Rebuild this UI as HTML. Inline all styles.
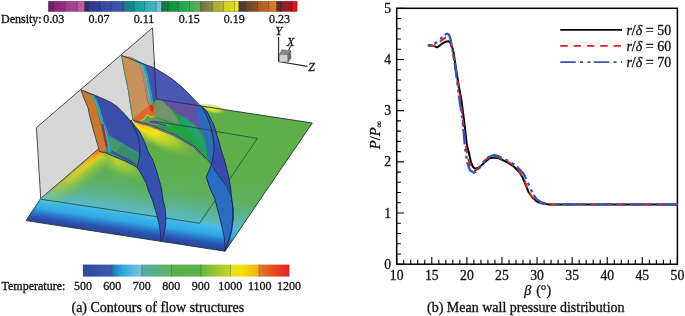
<!DOCTYPE html>
<html><head><meta charset="utf-8"><style>
html,body{margin:0;padding:0;background:#fff;}
svg{display:block;will-change:transform;}
text{font-family:"Liberation Serif",serif;fill:#111;stroke:#111;stroke-width:0.3px;}
</style></head><body>
<svg width="685" height="316" viewBox="0 0 685 316">
<defs><linearGradient id="d0"><stop offset="0" stop-color="#6a1e62"/><stop offset="1" stop-color="#781f6c"/></linearGradient><linearGradient id="d1"><stop offset="0" stop-color="#86267a"/><stop offset="1" stop-color="#94307f"/></linearGradient><linearGradient id="d2"><stop offset="0" stop-color="#9e3a88"/><stop offset="1" stop-color="#aa4890"/></linearGradient><linearGradient id="d3"><stop offset="0" stop-color="#bd509c"/><stop offset="1" stop-color="#c85aa2"/></linearGradient><linearGradient id="d4"><stop offset="0" stop-color="#2c2c6c"/><stop offset="1" stop-color="#30327a"/></linearGradient><linearGradient id="d5"><stop offset="0" stop-color="#323888"/><stop offset="1" stop-color="#343e92"/></linearGradient><linearGradient id="d6"><stop offset="0" stop-color="#36449c"/><stop offset="1" stop-color="#3a4ea6"/></linearGradient><linearGradient id="d7"><stop offset="0" stop-color="#3a50aa"/><stop offset="1" stop-color="#3c58b0"/></linearGradient><linearGradient id="d8"><stop offset="0" stop-color="#1a7682"/><stop offset="1" stop-color="#128a90"/></linearGradient><linearGradient id="d9"><stop offset="0" stop-color="#109c9e"/><stop offset="1" stop-color="#18a8aa"/></linearGradient><linearGradient id="d10"><stop offset="0" stop-color="#22aeb6"/><stop offset="1" stop-color="#3cb8c6"/></linearGradient><linearGradient id="d11"><stop offset="0" stop-color="#68bedc"/><stop offset="1" stop-color="#74c4e0"/></linearGradient><linearGradient id="d12"><stop offset="0" stop-color="#2a6a3a"/><stop offset="1" stop-color="#1a8040"/></linearGradient><linearGradient id="d13"><stop offset="0" stop-color="#0c8e40"/><stop offset="1" stop-color="#129a42"/></linearGradient><linearGradient id="d14"><stop offset="0" stop-color="#12a648"/><stop offset="1" stop-color="#30b050"/></linearGradient><linearGradient id="d15"><stop offset="0" stop-color="#42aa50"/><stop offset="1" stop-color="#5eb050"/></linearGradient><linearGradient id="d16"><stop offset="0" stop-color="#6a6e40"/><stop offset="1" stop-color="#8c9040"/></linearGradient><linearGradient id="d17"><stop offset="0" stop-color="#a6a638"/><stop offset="1" stop-color="#bab830"/></linearGradient><linearGradient id="d18"><stop offset="0" stop-color="#d6ce20"/><stop offset="1" stop-color="#e2d818"/></linearGradient><linearGradient id="d19"><stop offset="0" stop-color="#eee820"/><stop offset="1" stop-color="#f2ec30"/></linearGradient><linearGradient id="d20"><stop offset="0" stop-color="#4e3a30"/><stop offset="1" stop-color="#56402e"/></linearGradient><linearGradient id="d21"><stop offset="0" stop-color="#6a4430"/><stop offset="1" stop-color="#8c5028"/></linearGradient><linearGradient id="d22"><stop offset="0" stop-color="#a85a20"/><stop offset="1" stop-color="#c26820"/></linearGradient><linearGradient id="d23"><stop offset="0" stop-color="#d27020"/><stop offset="1" stop-color="#e08020"/></linearGradient><linearGradient id="d24"><stop offset="0" stop-color="#5a2c30"/><stop offset="1" stop-color="#602c30"/></linearGradient><linearGradient id="d25"><stop offset="0" stop-color="#862028"/><stop offset="1" stop-color="#a81820"/></linearGradient><linearGradient id="d26"><stop offset="0" stop-color="#e01020"/><stop offset="1" stop-color="#e41826"/></linearGradient><linearGradient id="t0"><stop offset="0" stop-color="#2d4a9e"/><stop offset="1" stop-color="#3a5aae"/></linearGradient><linearGradient id="t1"><stop offset="0" stop-color="#1c74be"/><stop offset="0.35" stop-color="#2ea6e0"/><stop offset="0.7" stop-color="#5cb8e0"/><stop offset="1" stop-color="#84c2d2"/></linearGradient><linearGradient id="t2"><stop offset="0" stop-color="#56aea8"/><stop offset="1" stop-color="#62b05c"/></linearGradient><linearGradient id="t3"><stop offset="0" stop-color="#5aae48"/><stop offset="1" stop-color="#5eb048"/></linearGradient><linearGradient id="t4"><stop offset="0" stop-color="#66b640"/><stop offset="0.6" stop-color="#a8c830"/><stop offset="1" stop-color="#cad428"/></linearGradient><linearGradient id="t5"><stop offset="0" stop-color="#e6e020"/><stop offset="0.4" stop-color="#f6de08"/><stop offset="1" stop-color="#f0ae1a"/></linearGradient><linearGradient id="t6"><stop offset="0" stop-color="#e87a28"/><stop offset="0.5" stop-color="#e84a22"/><stop offset="1" stop-color="#e02024"/></linearGradient></defs>
<defs>
<linearGradient id="flr" gradientUnits="userSpaceOnUse" x1="116.6" y1="233.6" x2="128.5" y2="154.5">
 <stop offset="0" stop-color="#2a44a0"/>
 <stop offset="0.05" stop-color="#2a52ac"/>
 <stop offset="0.11" stop-color="#2a7ac8"/>
 <stop offset="0.17" stop-color="#32a8e4"/>
 <stop offset="0.24" stop-color="#3cb6ea"/>
 <stop offset="0.275" stop-color="#48bae6"/>
 <stop offset="0.29" stop-color="#58bacc"/>
 <stop offset="0.38" stop-color="#5cb6a8"/>
 <stop offset="0.5" stop-color="#5cb280"/>
 <stop offset="0.65" stop-color="#5eb05e"/>
 <stop offset="1" stop-color="#5eae4a"/>
</linearGradient>
<linearGradient id="y1" gradientUnits="userSpaceOnUse" x1="70" y1="174" x2="84.1" y2="190.9">
 <stop offset="0" stop-color="#f09020"/>
 <stop offset="0.07" stop-color="#f0c820"/>
 <stop offset="0.2" stop-color="#e0d828"/>
 <stop offset="0.42" stop-color="#b0cc34" stop-opacity="0.8"/>
 <stop offset="0.72" stop-color="#84c046" stop-opacity="0.4"/>
 <stop offset="1" stop-color="#70b844" stop-opacity="0"/>
</linearGradient>
<radialGradient id="yg" cx="0.5" cy="0.5" r="0.5">
 <stop offset="0" stop-color="#d4d82a" stop-opacity="0.85"/>
 <stop offset="0.5" stop-color="#acd034" stop-opacity="0.55"/>
 <stop offset="1" stop-color="#80c040" stop-opacity="0"/>
</radialGradient>
<linearGradient id="y1fade" gradientUnits="userSpaceOnUse" x1="97" y1="151.5" x2="42" y2="197.5">
 <stop offset="0" stop-color="#fff"/>
 <stop offset="0.45" stop-color="#fff" stop-opacity="0.85"/>
 <stop offset="1" stop-color="#fff" stop-opacity="0.1"/>
</linearGradient>
<mask id="m1" maskUnits="userSpaceOnUse" x="0" y="100" width="200" height="150"><rect x="0" y="100" width="200" height="150" fill="url(#y1fade)"/></mask>
<radialGradient id="y1o" cx="0.5" cy="0.5" r="0.5">
 <stop offset="0" stop-color="#f07018"/>
 <stop offset="0.4" stop-color="#f4a018" stop-opacity="0.8"/>
 <stop offset="1" stop-color="#f4c818" stop-opacity="0"/>
</radialGradient>
<radialGradient id="y2" cx="0.5" cy="0.5" r="0.5" fx="0.22" fy="0.5">
 <stop offset="0" stop-color="#f27a1a"/>
 <stop offset="0.1" stop-color="#f6c812"/>
 <stop offset="0.3" stop-color="#f2e41a"/>
 <stop offset="0.6" stop-color="#c0d42c" stop-opacity="0.8"/>
 <stop offset="1" stop-color="#70b440" stop-opacity="0"/>
</radialGradient>
<radialGradient id="y3" cx="0.5" cy="0.5" r="0.5">
 <stop offset="0" stop-color="#f0ea30"/>
 <stop offset="0.5" stop-color="#d0de38" stop-opacity="0.8"/>
 <stop offset="1" stop-color="#5cae48" stop-opacity="0"/>
</radialGradient>
<linearGradient id="s2low" gradientUnits="userSpaceOnUse" x1="175" y1="101" x2="172" y2="135">
 <stop offset="0" stop-color="#6a46a6"/>
 <stop offset="0.25" stop-color="#6a5a98"/>
 <stop offset="0.5" stop-color="#3a9a62"/>
 <stop offset="0.8" stop-color="#16a24c"/>
 <stop offset="1" stop-color="#1a9a50"/>
</linearGradient>
<linearGradient id="s2band" gradientUnits="userSpaceOnUse" x1="208" y1="0" x2="228" y2="0">
 <stop offset="0" stop-color="#2a74c4"/>
 <stop offset="0.45" stop-color="#2c6cc0"/>
 <stop offset="0.55" stop-color="#3a50ac"/>
 <stop offset="1" stop-color="#3a4aa8"/>
</linearGradient>
</defs>
<polygon points="26.1,220.6 225,251.2 312.3,123 156.3,99.2 40.7,198.5" fill="url(#flr)"/>
<ellipse cx="118" cy="162" rx="34" ry="13" transform="rotate(25 118 162)" fill="url(#yg)"/>
<polygon points="40.7,198.5 97,151.5 128,170 62,216" fill="url(#y1)" mask="url(#m1)"/>
<ellipse cx="98" cy="151.5" rx="22" ry="8" transform="rotate(140 98 151.5)" fill="url(#y1o)"/>
<ellipse cx="160" cy="134" rx="44" ry="15" transform="rotate(28 160 134)" fill="url(#y2)"/>
<ellipse cx="212" cy="109" rx="16" ry="5" transform="rotate(12 212 109)" fill="url(#y3)"/>
<polyline points="41.4,199.3 199.6,223.2 257.4,138.4 153,121" fill="none" stroke="#1f5a3a" stroke-width="0.9"/>
<polyline points="40.7,198.5 26.1,220.6 225,251.2 312.3,123 156.3,99.2" fill="none" stroke="#1e3a2a" stroke-width="0.9"/>
<polygon points="36.4,127.6 152.5,27.8 156.3,99.2 40.7,198.5" fill="#d7d7d7" stroke="#3a3a3a" stroke-width="0.9"/>
<polygon points="199.8,105.2 201.3,106.3 206.4,110.5 214,125.3 218.5,140 221.2,150 225.2,162.7 228.3,175.3 230.7,188 231.6,198 233.3,208.6 233.3,219.3 231.6,231.6 228.9,240.5 226.3,246.7 225.4,249.6 225,251.2 225,251.2 224.9,247 224.5,238.7 221.8,226.3 218.3,212.2 214.7,198 212.5,194.3 209.3,186.4 206.2,176.9 206.2,176.9 208.5,171.5 210.9,165.8 212.5,159.5 213.8,152 214,145.6 212.7,135.4 210.2,125.3 206.4,115.2 201.3,106.3" fill="#3a4aaa"/>
<polygon points="206.2,176.9 208.5,171.5 210.9,165.8 211.7,165 218,175 226.7,186.4 230.7,194.3 232.5,205 232.5,220 231,231 228.5,240 226,247 225,251.2 225,251.2 224.9,247 224.5,238.7 221.8,226.3 218.3,212.2 214.7,198 212.5,194.3 209.3,186.4 206.2,176.9" fill="#2a6cc2"/>
<polygon points="203,108 206.4,110.5 214,125.3 218.5,140 220,148 215.5,148 213,132 208,118" fill="#2c66bc" fill-opacity="0.6"/>
<polygon points="121.3,55.5 129.4,58.3 140.8,63 154.1,67.8 165.5,74.6 172.6,79.3 180.2,85.6 187.8,92.6 194.1,99.5 199.8,105.2 201.3,106.3 206.4,115.2 210.2,125.3 212.7,135.4 214,145.6 213.8,152 212.5,159.5 210.9,165.8 211.5,164.5 205.6,157.6 194,146 173.7,134.2 150,124.7 133,120.3 130.4,106.8 128,90.3 124.5,73.7" fill="#2a3ba5" fill-opacity="0.85"/>
<polyline points="154.1,62 156.3,99.2" fill="none" stroke="#2a2a5a" stroke-width="0.8" stroke-opacity="0.7"/>
<polygon points="156.3,99.2 199.9,105.9 201.3,106.3 206.4,115.2 210.2,125.3 212.7,135.4 214,145.6 213.8,152 212.5,159.5 210.9,165.8 211.5,164.5 205.6,157.6 194,146 173.7,134.2 150,124.7 133,120.3 135,117.8 152.3,103" fill="#1ea244"/>
<polygon points="156.3,99.2 162,100.1 168,106 176,116 180,124 170,122 160,118 154.8,116 154.8,104" fill="#7c9070" fill-opacity="0.9"/>
<polygon points="135,119 150,116.5 156,117 165,122 172,126.5 150,124.7 133,120.3" fill="#6a9a5a" fill-opacity="0.9"/>
<polygon points="161,99.5 197,105.1 201,108 206,118 210,130 212,142 205,137 196,126 186,119 176,113 168,106" fill="#6a48a8" fill-opacity="0.92"/>
<polygon points="196,106 201.3,106.3 206.4,115.2 210.2,125.3 212.7,135.4 214,145.6 213.8,152 212.5,159.5 210.9,165.8 207,156 206,144 202,130 197,118" fill="#2a6cc0" fill-opacity="0.9"/>
<polygon points="186,116 196,126 203,140 207,156 204,152 196,138 186,126 178,120" fill="#2a9aa0" fill-opacity="0.5"/>
<polyline points="134,121.3 150,125.7 173.7,135.2 194,147 205.6,158.6" fill="none" stroke="#6a5a9a" stroke-width="2" stroke-opacity="0.8"/>
<polyline points="153,121 214,130.8" fill="none" stroke="#1a4a40" stroke-width="0.8"/>
<polygon points="121.3,55.5 130,56.5 138.7,63 142.2,73.7 144.6,85.5 147,99.7 148.5,104.6 152.3,103 135,117.8 133,120.3 130.4,106.8 128,90.3 124.5,73.7" fill="#c8905c"/>
<polyline points="131,57.6 139.7,63.6 143.2,74 145.6,86 148.3,99.9 149.8,104" fill="none" stroke="#c87a78" stroke-width="1.8"/>
<polyline points="133,58.8 141.6,64.2 145,74.4 147.4,86.4 150.1,100.3 151.5,103.7" fill="none" stroke="#52c07e" stroke-width="2"/>
<polyline points="135,60 143.6,64.8 147,74.8 149.4,86.8 152,100.6 153.2,103.4" fill="none" stroke="#2c9ad0" stroke-width="2"/>
<polyline points="121.6,56 124.8,73.7 128.3,90.3 130.7,106.8 133.2,119.8" fill="none" stroke="#3a8a50" stroke-width="0.9"/>
<polygon points="133,120.3 135,117.8 152.3,103 154,104.5 155,110 154.8,116 150.5,117 147.6,114.8 144,119.6 140,121.5" fill="#e0682a"/>
<polygon points="149.5,105.5 153,104.5 153.6,109.5 152.5,112.5 150.2,111" fill="#d03a22"/>
<path d="M140,121 q3,-1 4,-2 q2,-3 3.6,-4.2 q2,1.5 3,2.2 q2,0 4.2,-1" fill="none" stroke="#b8c840" stroke-width="1.3"/>
<polyline points="150,121.5 157,123 166,125.5" fill="none" stroke="#6040a0" stroke-width="1.8"/>
<polyline points="121.3,55.5 129.4,58.3 140.8,63 154.1,67.8 165.5,74.6 172.6,79.3 180.2,85.6 187.8,92.6 194.1,99.5 199.8,105.2 201.3,106.3 206.4,115.2 210.2,125.3 212.7,135.4 214,145.6 213.8,152 212.5,159.5 210.9,165.8 208.5,171.5 206.2,176.9 206.2,176.9 209.3,186.4 212.5,194.3 214.7,198 218.3,212.2 221.8,226.3 224.5,238.7 224.9,247 225,251.2" fill="none" stroke="#1a1a48" stroke-width="0.8"/>
<polyline points="201.3,106.3 206.4,110.5 214,125.3 218.5,140 221.2,150 225.2,162.7 228.3,175.3 230.7,188 231.6,198 233.3,208.6 233.3,219.3 231.6,231.6 228.9,240.5 226.3,246.7 225.4,249.6 225,251.2" fill="none" stroke="#1a1a48" stroke-width="0.8"/>
<polyline points="211.7,165 218,175 226.7,186.4 230.7,194.3 232.5,205 232.5,220 231,231 228.5,240 226,247" fill="none" stroke="#1a2a5a" stroke-width="0.7"/>
<polyline points="156.3,99.2 199.9,105.9" fill="none" stroke="#2a2a50" stroke-width="0.8"/>
<polyline points="211.5,164.5 205.6,157.6 194,146 173.7,134.2 150,124.7 133,120.3" fill="none" stroke="#2a2a50" stroke-width="0.6"/>
<polygon points="131,120.6 135.1,126.3 139.7,132 143.1,138.8 146,145.6 148.2,152 152.7,160 156.3,170 159.2,180 161.5,188.5 163,200 165.2,208.5 165.9,217 165.6,225.6 163.8,234 161.6,240.5 161.3,241.6 161.3,241.6 160.2,231.2 158.8,222.7 155.9,211.4 152.4,200 148.2,190 146.3,183.7 143.5,178 139.7,171.4 137,167.2 137.2,166.2 138.5,162 139.5,157 139.9,152 139.7,145.6 138.5,138.8 136.3,132 132.8,125.1 128.3,118.3" fill="#3650ae"/>
<polygon points="80.9,89.8 90,93.4 100,97.4 106.4,100.2 111.1,102.5 117,106.5 122.2,111.6 128.3,118.3 132.8,125.1 136.3,132 138.5,138.8 139.7,145.6 139.9,152 139.5,157 138.5,162 137.2,166.2 137,167.2 125,161 114,156.5 106,153 99.5,151.5 99.1,149.7 96.4,140.8 92.9,128.4 89.3,114.2 88.1,108 85.9,102.7 83.6,97.4" fill="#3a4eaa"/>
<polygon points="107,134 138.7,152.5 139.5,157 138.5,162 137.2,166.2 137,167.2 125,161 114,156.5 107,153.5" fill="#3a8a70"/>
<polygon points="108,137 122,145 116,152 109,151" fill="#4aa466" fill-opacity="0.6"/>
<polyline points="108,149 114,153 125,158.5 136,164.5" fill="none" stroke="#3a3aa0" stroke-width="2" stroke-opacity="0.75"/>
<polyline points="108,136 122,144.5 138,153.5" fill="none" stroke="#30a0b0" stroke-width="1" stroke-opacity="0.7"/>
<polygon points="80.9,89.8 86,92.2 91.2,95.1 94.2,101.2 96.5,107.3 98.2,114.2 101.8,128.4 104.4,140.8 106.2,148 107,151.8 99.5,151.5 99.1,149.7 96.4,140.8 92.9,128.4 89.3,114.2 88.1,108 85.9,102.7 83.6,97.4" fill="#c87830"/>
<polyline points="91.8,94.6 95.3,101.3 97.7,107.5 99.5,114.4 101.6,122 104.8,128.5 106.8,137 108.8,146.5 109.4,152" fill="none" stroke="#3cb878" stroke-width="1.8"/>
<polyline points="93.4,94.8 96.9,101.5 99.3,107.7 101.1,114.6 103.2,122 106.4,128.6 108.4,137 110.4,146.6 111,152.2" fill="none" stroke="#2c94c8" stroke-width="1.3"/>
<polyline points="102.8,124 104.6,135 106.8,146" fill="none" stroke="#c82020" stroke-width="1.5"/>
<polyline points="80.9,89.8 90,93.4 100,97.4 106.4,100.2 111.1,102.5 117,106.5 122.2,111.6 128.3,118.3 132.8,125.1 136.3,132 138.5,138.8 139.7,145.6 139.9,152 139.5,157 138.5,162 137.2,166.2 137,167.2 139.7,171.4 143.5,178 146.3,183.7 148.2,190 152.4,200 155.9,211.4 158.8,222.7 160.2,231.2 161.3,241.6" fill="none" stroke="#1a1a48" stroke-width="0.8"/>
<polyline points="131,120.6 135.1,126.3 139.7,132 143.1,138.8 146,145.6 148.2,152 152.7,160 156.3,170 159.2,180 161.5,188.5 163,200 165.2,208.5 165.9,217 165.6,225.6 163.8,234 161.6,240.5 161.3,241.6" fill="none" stroke="#1a1a48" stroke-width="0.8"/>
<polyline points="137,167.2 125,161 114,156.5 106,153 99.5,151.5" fill="none" stroke="#1a1a48" stroke-width="0.7"/>
<polyline points="99.5,151.5 99.1,149.7 96.4,140.8 92.9,128.4 89.3,114.2 88.1,108 85.9,102.7 83.6,97.4 80.9,89.8" fill="none" stroke="#2a3a30" stroke-width="0.7"/>
<rect x="48.3" y="1.2" width="5.6" height="10.4" fill="url(#d0)"/><rect x="53.6" y="1.2" width="12" height="10.4" fill="url(#d1)"/><rect x="65.3" y="1.2" width="12" height="10.4" fill="url(#d2)"/><rect x="77" y="1.2" width="7.8" height="10.4" fill="url(#d3)"/><rect x="84.5" y="1.2" width="3.8" height="10.4" fill="url(#d4)"/><rect x="88" y="1.2" width="12" height="10.4" fill="url(#d5)"/><rect x="99.7" y="1.2" width="11.4" height="10.4" fill="url(#d6)"/><rect x="110.8" y="1.2" width="12.4" height="10.4" fill="url(#d7)"/><rect x="122.9" y="1.2" width="11.2" height="10.4" fill="url(#d8)"/><rect x="133.8" y="1.2" width="11" height="10.4" fill="url(#d9)"/><rect x="144.5" y="1.2" width="12" height="10.4" fill="url(#d10)"/><rect x="156.2" y="1.2" width="5.6" height="10.4" fill="url(#d11)"/><rect x="161.5" y="1.2" width="6.7" height="10.4" fill="url(#d12)"/><rect x="167.9" y="1.2" width="10.8" height="10.4" fill="url(#d13)"/><rect x="178.4" y="1.2" width="11.4" height="10.4" fill="url(#d14)"/><rect x="189.5" y="1.2" width="11.2" height="10.4" fill="url(#d15)"/><rect x="200.4" y="1.2" width="12.2" height="10.4" fill="url(#d16)"/><rect x="212.3" y="1.2" width="11.4" height="10.4" fill="url(#d17)"/><rect x="223.4" y="1.2" width="11.4" height="10.4" fill="url(#d18)"/><rect x="234.5" y="1.2" width="4.5" height="10.4" fill="url(#d19)"/><rect x="238.7" y="1.2" width="7.9" height="10.4" fill="url(#d20)"/><rect x="246.3" y="1.2" width="11.5" height="10.4" fill="url(#d21)"/><rect x="257.5" y="1.2" width="11.4" height="10.4" fill="url(#d22)"/><rect x="268.6" y="1.2" width="8.2" height="10.4" fill="url(#d23)"/><rect x="276.5" y="1.2" width="4.6" height="10.4" fill="url(#d24)"/><rect x="280.8" y="1.2" width="11.4" height="10.4" fill="url(#d25)"/><rect x="291.9" y="1.2" width="5.4" height="10.4" fill="url(#d26)"/><path d="M53.6 1.2V11.6M65.3 1.2V11.6M77 1.2V11.6M84.5 1.2V11.6M88 1.2V11.6M99.7 1.2V11.6M110.8 1.2V11.6M122.9 1.2V11.6M133.8 1.2V11.6M144.5 1.2V11.6M156.2 1.2V11.6M161.5 1.2V11.6M167.9 1.2V11.6M178.4 1.2V11.6M189.5 1.2V11.6M200.4 1.2V11.6M212.3 1.2V11.6M223.4 1.2V11.6M234.5 1.2V11.6M238.7 1.2V11.6M246.3 1.2V11.6M257.5 1.2V11.6M268.6 1.2V11.6M276.5 1.2V11.6M280.8 1.2V11.6M291.9 1.2V11.6" stroke="#000" stroke-opacity="0.35" stroke-width="0.8"/><rect x="48.3" y="1.2" width="248.7" height="10.4" fill="none" stroke="#000" stroke-opacity="0.3" stroke-width="0.7"/><g font-size="12"><text x="1" y="23.3">Density:</text><text x="53.75" y="23.3" text-anchor="middle">0.03</text><text x="98.9" y="23.3" text-anchor="middle">0.07</text><text x="144.05" y="23.3" text-anchor="middle">0.11</text><text x="189.2" y="23.3" text-anchor="middle">0.15</text><text x="234.35" y="23.3" text-anchor="middle">0.19</text><text x="279.5" y="23.3" text-anchor="middle">0.23</text></g><rect x="82.9" y="264.6" width="29.5" height="12" fill="url(#t0)"/><rect x="112.1" y="264.6" width="30" height="12" fill="url(#t1)"/><rect x="141.8" y="264.6" width="30" height="12" fill="url(#t2)"/><rect x="171.5" y="264.6" width="29.8" height="12" fill="url(#t3)"/><rect x="201" y="264.6" width="29.7" height="12" fill="url(#t4)"/><rect x="230.4" y="264.6" width="29.1" height="12" fill="url(#t5)"/><rect x="259.2" y="264.6" width="30.2" height="12" fill="url(#t6)"/><path d="M112.1 264.6V276.6M141.8 264.6V276.6M171.5 264.6V276.6M201 264.6V276.6M230.4 264.6V276.6M259.2 264.6V276.6" stroke="#1a6a40" stroke-opacity="0.6" stroke-width="0.8"/><g font-size="12"><text x="1.5" y="290.2">Temperature:</text><text x="82.9" y="290.2" text-anchor="middle">500</text><text x="112.36" y="290.2" text-anchor="middle">600</text><text x="141.82" y="290.2" text-anchor="middle">700</text><text x="171.28" y="290.2" text-anchor="middle">800</text><text x="200.74" y="290.2" text-anchor="middle">900</text><text x="230.2" y="290.2" text-anchor="middle">1000</text><text x="259.66" y="290.2" text-anchor="middle">1100</text><text x="289.12" y="290.2" text-anchor="middle">1200</text></g><text x="157.8" y="311.9" font-size="14" text-anchor="middle">(a) Contours of flow structures</text><path d="M278.6 61.5V37M278.6 61.5L307.4 66.4M288.6 50L290.6 46.5" stroke="#222" stroke-width="1.1" fill="none"/><polygon points="279.5,54.2 288,54.2 288,62.1 279.5,62.1" fill="#d2d2d2" stroke="#555" stroke-width="0.5"/><polygon points="279.5,54.2 281.7,49.7 290.6,50.6 288,54.2" fill="#8a8a8a" stroke="#555" stroke-width="0.5"/><polygon points="288,54.2 290.6,50.6 291,58.2 288,62.1" fill="#6e6e6e" stroke="#555" stroke-width="0.5"/><g font-size="12" font-style="italic"><text x="275.6" y="35">Y</text><text x="287" y="45.6">X</text><text x="308.2" y="71">Z</text></g>
<path d="M396.7 264.2V256.9M403.72 264.2V259.8M410.74 264.2V259.8M417.75 264.2V259.8M424.77 264.2V259.8M431.79 264.2V256.9M438.81 264.2V259.8M445.82 264.2V259.8M452.84 264.2V259.8M459.86 264.2V259.8M466.88 264.2V256.9M473.89 264.2V259.8M480.91 264.2V259.8M487.93 264.2V259.8M494.94 264.2V259.8M501.96 264.2V256.9M508.98 264.2V259.8M516 264.2V259.8M523.01 264.2V259.8M530.03 264.2V259.8M537.05 264.2V256.9M544.07 264.2V259.8M551.09 264.2V259.8M558.1 264.2V259.8M565.12 264.2V259.8M572.14 264.2V256.9M579.15 264.2V259.8M586.17 264.2V259.8M593.19 264.2V259.8M600.21 264.2V259.8M607.23 264.2V256.9M614.24 264.2V259.8M621.26 264.2V259.8M628.28 264.2V259.8M635.29 264.2V259.8M642.31 264.2V256.9M649.33 264.2V259.8M656.35 264.2V259.8M663.37 264.2V259.8M670.38 264.2V259.8M677.4 264.2V256.9M396.7 264.2H404M396.7 253.96H400.9M396.7 243.73H400.9M396.7 233.49H400.9M396.7 223.26H400.9M396.7 213.02H404M396.7 202.78H400.9M396.7 192.55H400.9M396.7 182.31H400.9M396.7 172.08H400.9M396.7 161.84H404M396.7 151.6H400.9M396.7 141.37H400.9M396.7 131.13H400.9M396.7 120.9H400.9M396.7 110.66H404M396.7 100.42H400.9M396.7 90.19H400.9M396.7 79.95H400.9M396.7 69.72H400.9M396.7 59.48H404M396.7 49.24H400.9M396.7 39.01H400.9M396.7 28.77H400.9M396.7 18.54H400.9M396.7 8.3H404" stroke="#000" stroke-width="1.1" fill="none"/><rect x="396.7" y="8.3" width="280.7" height="255.9" fill="none" stroke="#000" stroke-width="1.5"/><g font-size="13.7"><text x="396.7" y="279.6" text-anchor="middle">10</text><text x="431.79" y="279.6" text-anchor="middle">15</text><text x="466.88" y="279.6" text-anchor="middle">20</text><text x="501.96" y="279.6" text-anchor="middle">25</text><text x="537.05" y="279.6" text-anchor="middle">30</text><text x="572.14" y="279.6" text-anchor="middle">35</text><text x="607.23" y="279.6" text-anchor="middle">40</text><text x="642.31" y="279.6" text-anchor="middle">45</text><text x="677.4" y="279.6" text-anchor="middle">50</text><text x="391.2" y="268.7" text-anchor="end">0</text><text x="391.2" y="217.52" text-anchor="end">1</text><text x="391.2" y="166.34" text-anchor="end">2</text><text x="391.2" y="115.16" text-anchor="end">3</text><text x="391.2" y="63.98" text-anchor="end">4</text><text x="391.2" y="12.8" text-anchor="end">5</text></g><polyline points="428,45.2 432,45.6 435,46.4 436.8,47.3 438.5,46.6 441,44.4 444,42.5 446.5,41.5 448.6,41.2 450,42 451.2,44.5 452.5,48 453.5,52 455,62 457,75 459,87 461.4,100 464,120 466.9,145 468.9,152.7 470.8,161.5 472.7,166.6 474.5,168.2 476,168.6 478,168 480.3,166.4 484.8,162.1 489.5,158.3 494.3,157.4 499,158.3 503.8,160.7 508.5,163.1 513,165.8 516,168.8 519,171.8 522.8,177.8 525.7,184.9 528.5,192 532.1,197 536.4,201.3 542,203.4 549.2,204.4" fill="none" stroke="#000" stroke-width="2" stroke-linejoin="round"/><line x1="549" y1="204.4" x2="677.4" y2="204.5" stroke="#000" stroke-width="2"/><polyline points="428,45.4 430.6,45.6 433.9,46 437,44 441,40.8 445.8,37.5 447.7,37.3 449.5,39.5 450.5,43.2 452.4,49.9 454.5,62 460.5,100 465.8,145 467.2,153 469,162 471.5,168.5 474.8,170.5 478,169 481,165.5 485.7,159.7 490,157 494.3,156.4 499,157.5 503.8,160 508.5,162.1 513,165 517,168.5 521,174 524.5,180 527,187.5 530,194 534,199.5 539,202.8 546,204 549.2,204.4" fill="none" stroke="#d8202a" stroke-width="2" stroke-dasharray="7.5 5.8"/><line x1="549.2" y1="204.4" x2="677.4" y2="204.5" stroke="#d8202a" stroke-width="2" stroke-dasharray="7.5 5.82" stroke-dashoffset="10.7"/><polyline points="427.7,45.1 430.6,45.6 433,44.5 435.3,43.2 440.5,38.9 444.8,34.7 447.2,33.7 449.1,34.7 450.5,39.4 451.5,44.2 452.5,50 455,65 459.5,100 462.5,120 464.8,145 465.7,152.7 467.6,164 470.1,170.4 473.9,172.7 476.5,171.5 479,168.5 483.8,161.6 488.6,156.9 494.3,155 500,156.9 505.7,159.7 512.3,163.1 517.1,167.1 523.5,173.5 527.8,182.1 531.4,190.6 536.4,199.2 542,202.7 549.2,204.4" fill="none" stroke="#3a55a8" stroke-width="2.3" stroke-dasharray="15.5 4.2 3 4.4 3 3.3" stroke-dashoffset="12.5"/><line x1="549.2" y1="204.4" x2="677.4" y2="204.5" stroke="#3a55a8" stroke-width="2.3" stroke-dasharray="15.5 4.2 3 4.4 3 3.3" stroke-dashoffset="20.2"/><line x1="560.3" y1="29.9" x2="622" y2="29.9" stroke="#000" stroke-width="1.8"/><line x1="560.3" y1="45.9" x2="622" y2="45.9" stroke="#d8202a" stroke-width="1.8" stroke-dasharray="7.5 5.8"/><line x1="560.3" y1="62.1" x2="622" y2="62.1" stroke="#3a55a8" stroke-width="1.9" stroke-dasharray="15.5 4.2 3 4.4 3 3.5"/><g font-size="14"><text x="626.4" y="34.6"><tspan font-style="italic">r</tspan>/<tspan font-style="italic">&#948;</tspan> = 50</text><text x="626.4" y="50.7"><tspan font-style="italic">r</tspan>/<tspan font-style="italic">&#948;</tspan> = 60</text><text x="626.4" y="66.8"><tspan font-style="italic">r</tspan>/<tspan font-style="italic">&#948;</tspan> = 70</text></g><text x="537.7" y="295" font-size="14" text-anchor="middle"><tspan font-style="italic">&#946;</tspan><tspan dx="1.4">&#160;(&#176;)</tspan></text><text transform="translate(379.6 135.1) rotate(-90)" font-size="14.5" text-anchor="middle"><tspan font-style="italic">P</tspan>/<tspan font-style="italic">P</tspan><tspan font-size="9" dy="2.5">&#8734;</tspan></text><text x="525.8" y="311.9" font-size="14" text-anchor="middle">(b) Mean wall pressure distribution</text>
</svg>
</body></html>
